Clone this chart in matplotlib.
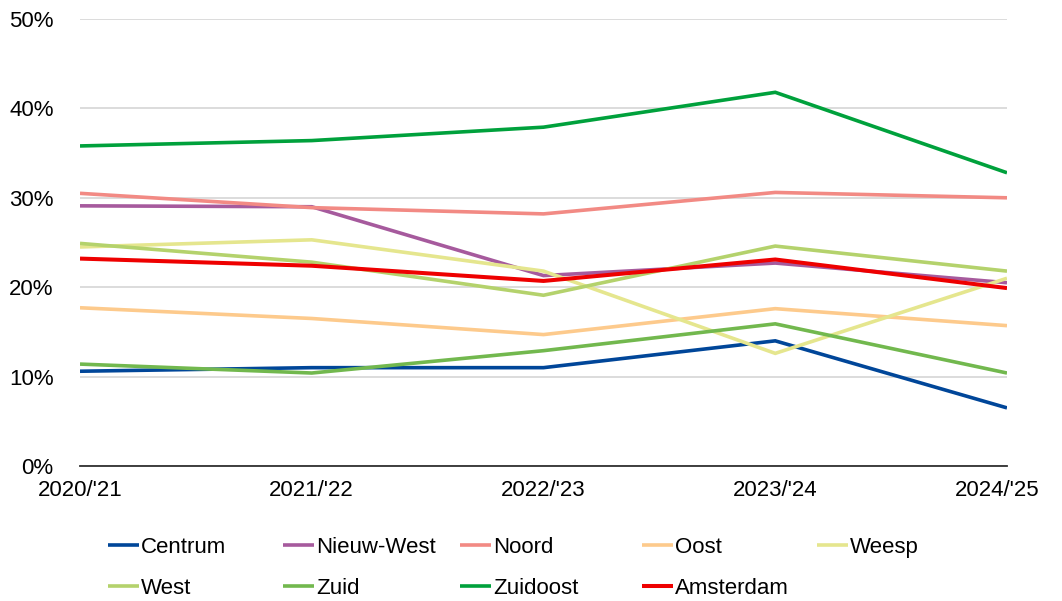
import matplotlib
matplotlib.use("Agg")
import matplotlib.pyplot as plt
from matplotlib.ticker import FuncFormatter, MultipleLocator
from matplotlib.transforms import ScaledTranslation

plt.rcParams['font.family'] = ['Liberation Sans', 'DejaVu Sans']

years = ["2020/'21", "2021/'22", "2022/'23", "2023/'24", "2024/'25"]

centrum    = [10.6, 11.0, 11.0, 14.0, 6.5]
nieuw_west = [29.1, 29.0, 21.3, 22.7, 20.5]
noord      = [30.5, 28.9, 28.2, 30.6, 30.0]
oost       = [17.7, 16.5, 14.7, 17.6, 15.7]
weesp      = [24.5, 25.3, 21.8, 12.6, 21.0]
west       = [24.9, 22.8, 19.1, 24.6, 21.8]
zuid       = [11.4, 10.4, 12.9, 15.9, 10.4]
zuidoost   = [35.8, 36.4, 37.9, 41.8, 32.8]
amsterdam  = [23.2, 22.4, 20.7, 23.1, 19.9]

names = ["Centrum", "Nieuw-West", "Noord", "Oost", "Weesp",
         "West", "Zuid", "Zuidoost", "Amsterdam"]
series = [centrum, nieuw_west, noord, oost, weesp, west, zuid, zuidoost, amsterdam]
colors = ["#004699", "#a65a9d", "#f28a84", "#fdca8c", "#e5e68e",
          "#b4d26c", "#72b84e", "#00a13c", "#ee0000"]
widths = [2.6, 2.6, 2.6, 2.6, 2.6, 2.6, 2.6, 2.6, 2.9]

W, H = 1062, 601
fig = plt.figure(figsize=(W / 100, H / 100), dpi=100)
ax = fig.add_axes([80 / W, (H - 466) / H, (1007 - 80) / W, (466 - 19) / H])

x = list(range(len(years)))
lines = []
for name, vals, c, lw in zip(names, series, colors, widths):
    ln, = ax.plot(x, vals, color=c, lw=lw, label=name, solid_capstyle='butt',
                  solid_joinstyle='miter', zorder=3)
    lines.append(ln)

ax.set_xlim(0, 4)
ax.set_ylim(0, 50)
ax.yaxis.set_major_locator(MultipleLocator(10))
ax.yaxis.set_major_formatter(FuncFormatter(lambda v, p: f"{v:.0f}%"))
ax.set_xticks(x)
ax.set_xticklabels(years)
ax.grid(axis='y', color='#d9d9d9', lw=1.3, zorder=0)
for s in ['top', 'right', 'left']:
    ax.spines[s].set_visible(False)
ax.spines['bottom'].set_color('#303030')
ax.spines['bottom'].set_linewidth(1.3)
ax.spines['bottom'].set_zorder(4)
ax.tick_params(axis='both', length=0, labelsize=16, colors='black')
ax.tick_params(axis='y', pad=19)
ax.tick_params(axis='x', pad=10)
# last category label is pulled slightly inward, as in the reference
last = ax.get_xticklabels()[-1]
last.set_transform(last.get_transform() + ScaledTranslation(-10 / 100, 0, fig.dpi_scale_trans))

# legend: row-major layout in 5 equal-width columns
row1 = list(range(5))
row2 = list(range(5, 9))
col_x = [108, 283, 460, 642, 817]
for c in range(5):
    idx = [row1[c]] + ([row2[c]] if c < len(row2) else [])
    fig.legend([lines[i] for i in idx], [names[i] for i in idx],
               loc='upper left', bbox_to_anchor=(col_x[c] / W, 1 - 537 / H),
               frameon=False, fontsize=16, handlelength=1.4, handletextpad=0.08,
               labelspacing=0.9, borderpad=0, borderaxespad=0)

fig.savefig("out.png", dpi=100)
